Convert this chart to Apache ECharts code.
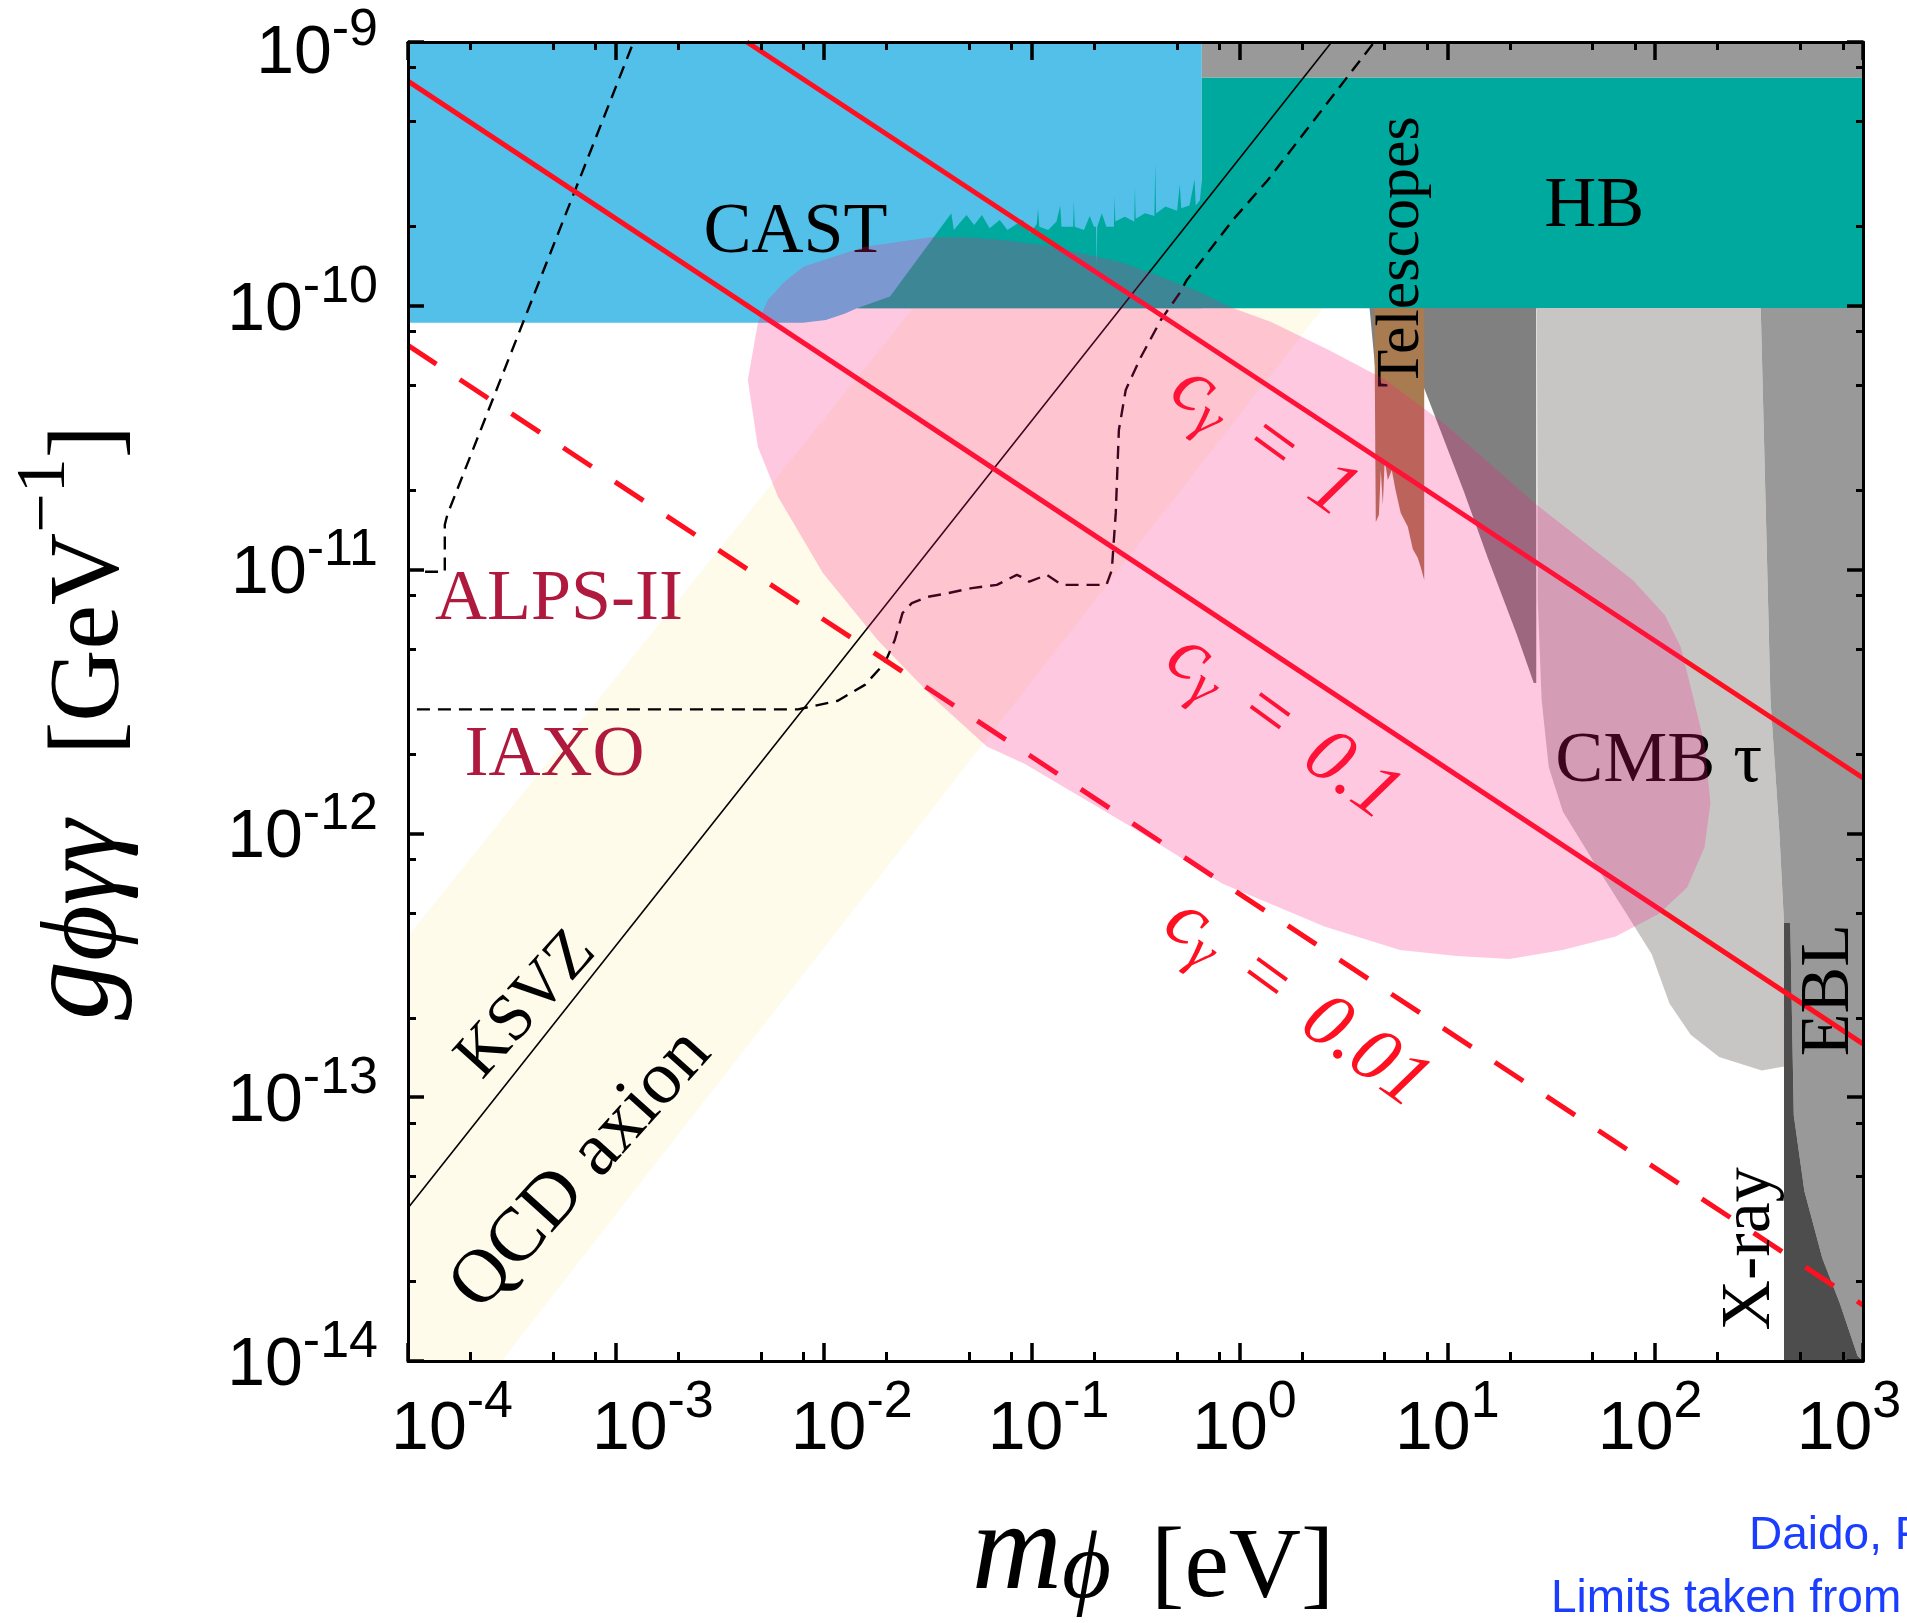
<!DOCTYPE html>
<html><head><meta charset="utf-8">
<script src="https://cdn.jsdelivr.net/npm/echarts@6/dist/echarts.min.js"></script>
<style>html,body{margin:0;padding:0;background:#fff;}#c{width:1907px;height:1623px;}</style>
</head><body><div id="c"></div>
<script>
// ---------- axis ticks (log10 exponents) ----------
const xTickExps = [-4, -3, -2, -1, 0, 1, 2, 3];
const yTickExps = [-14, -13, -12, -11, -10, -9];
const minorMultipliers = [2, 5, 8];

// ---------- regions: log10(m_phi / eV), log10(g / GeV^-1) ----------
const qcdBandLogM = [-4, -4, -0.54, 1.40, -3.55];
const qcdBandLogG = [-14, -12.39, -9, -9, -14];

const castLogM = [-4, -0.181, -0.181, -1.84, -1.90, -1.99, -2.10, -4];
const castLogG = [-9, -9, -10.009, -10.009, -10.03, -10.054, -10.064, -10.064];

const hbLogM = [-1.84, -1.681, -1.386, -1.374, -1.313, -1.276, -1.239, -1.202, -1.153, -1.116, -1.042, -1.006, -0.975, -0.969, -0.963, -0.920, -0.880, -0.862, -0.856, -0.800, -0.797, -0.792, -0.748, -0.720, -0.700, -0.690, -0.687, -0.684, -0.662, -0.640, -0.604, -0.601, -0.597, -0.552, -0.506, -0.503, -0.499, -0.454, -0.409, -0.405, -0.401, -0.356, -0.300, -0.287, -0.280, -0.240, -0.216, -0.210, -0.190, -0.181, -0.181, 3, 3];
const hbLogG = [-10.009, -9.965, -9.649, -9.713, -9.656, -9.694, -9.656, -9.706, -9.675, -9.713, -9.675, -9.724, -9.690, -9.630, -9.700, -9.713, -9.680, -9.620, -9.700, -9.700, -9.600, -9.700, -9.713, -9.660, -9.700, -9.700, -9.852, -9.700, -9.649, -9.700, -9.700, -9.586, -9.680, -9.662, -9.680, -9.549, -9.670, -9.649, -9.660, -9.460, -9.650, -9.624, -9.640, -9.540, -9.630, -9.620, -9.520, -9.620, -9.600, -9.523, -9.135, -9.135, -10.009];

const topStripLogM = [-0.181, 3, 3, -0.181];
const topStripLogG = [-9, -9, -9.135, -9.135];

const darkGrayLogM = [0.626, 1.428, 1.428, 1.416, 1.334, 1.195, 1.079, 0.964, 0.889, 0.656];
const darkGrayLogG = [-10.008, -10.008, -11.430, -11.430, -11.245, -10.956, -10.702, -10.466, -10.313, -10.262];

const lightGrayLogM = [1.431, 2.508, 2.555, 2.598, 2.62, 2.633, 2.513, 2.308, 2.171, 2.069, 1.983, 1.863, 1.727, 1.556, 1.488, 1.454, 1.435];
const lightGrayLogG = [-10.008, -10.008, -11.494, -12.002, -12.340, -12.882, -12.899, -12.848, -12.763, -12.645, -12.457, -12.306, -12.137, -11.917, -11.748, -11.494, -11.115];

const eblLogM = [2.508, 3, 3, 2.974, 2.888, 2.804, 2.718, 2.667, 2.650, 2.62, 2.598, 2.555];
const eblLogG = [-10.008, -10.008, -14, -13.981, -13.780, -13.610, -13.356, -13.068, -12.340, -12.340, -12.002, -11.494];

const xrayLogM = [2.62, 2.650, 2.667, 2.718, 2.804, 2.888, 2.974, 3, 2.62];
const xrayLogG = [-12.340, -12.340, -13.068, -13.356, -13.610, -13.780, -13.981, -14, -14];

const telescopeLogM = [0.649, 0.889, 0.889, 0.872, 0.858, 0.834, 0.810, 0.776, 0.752, 0.733, 0.714, 0.699, 0.690, 0.680, 0.671, 0.656];
const telescopeLogG = [-10.008, -10.008, -11.039, -10.990, -10.956, -10.922, -10.838, -10.785, -10.702, -10.622, -10.660, -10.585, -10.755, -10.622, -10.793, -10.820];

const cmbTauLogM = [-2.365, -2.317, -2.269, -2.19, -2.098, -1.803, -1.484, -1.313, -1.138, -0.946, -0.768, -0.575, -0.400, -0.215, -0.032, 0.153, 0.430, 0.704, 0.988, 1.428, 1.892, 2.046, 2.123, 2.186, 2.238, 2.266, 2.238, 2.154, 2.017, 1.810, 1.555, 1.300, 1.044, 0.772, 0.409, -0.081, -0.511, -1.032, -1.215, -1.462, -1.741, -2.004, -2.220, -2.317];
const cmbTauLogG = [-10.281, -10.065, -9.978, -9.91, -9.852, -9.776, -9.740, -9.740, -9.751, -9.770, -9.800, -9.834, -9.883, -9.940, -10.008, -10.061, -10.168, -10.281, -10.448, -10.753, -11.039, -11.172, -11.293, -11.494, -11.663, -11.884, -12.052, -12.205, -12.306, -12.391, -12.442, -12.476, -12.465, -12.442, -12.353, -12.191, -11.980, -11.737, -11.671, -11.494, -11.267, -11.013, -10.724, -10.534];

// ---------- lines ----------
const ksvzLogM = [-4, 0.444];
const ksvzLogG = [-13.42, -9];
const c1LogM = [-2.37, 3];
const c1LogG = [-9, -11.79];
const c01LogM = [-4, 3];
const c01LogG = [-9.148, -12.798];
const c001LogM = [-4, 3];
const c001LogG = [-10.150, -13.788];
const iaxoLogM = [-3.957, -2.124, -1.932, -1.802, -1.706, -1.658, -1.621, -1.576, -1.504, -1.406, -1.287, -1.167, -1.071, -1.037, -1.011, -0.927, -0.854, -0.640, -0.614, -0.595, -0.580, -0.547, -0.474, -0.378, -0.287, -0.253, -0.032, 0.137, 0.649];
const iaxoLogG = [-11.530, -11.530, -11.497, -11.437, -11.354, -11.267, -11.165, -11.127, -11.104, -11.090, -11.070, -11.058, -11.020, -11.032, -11.046, -11.020, -11.058, -11.058, -11.002, -10.785, -10.471, -10.319, -10.194, -10.054, -9.951, -9.902, -9.675, -9.523, -9.000];
const alpsLogM = [-3.918, -3.823, -3.823, -3.81, -2.915];
const alpsLogG = [-11.008, -11.008, -10.83, -10.79, -9.0];

// ---------- annotation texts ----------
const labelTexts = ['CAST', 'HB', 'Telescopes', 'CMB τ', 'EBL', 'X-ray', 'ALPS-II', 'IAXO', 'KSVZ', 'QCD axion'];
const labelLogM = [-2.136, 1.707, 0.781, 2.017, 2.837, 2.457, -3.274, -3.295, -3.428, -3.165];
const labelLogG = [-9.726, -9.627, -9.796, -11.731, -12.594, -13.575, -11.115, -11.708, -12.651, -13.276];
const cLabelValues = ['1', '0.1', '0.01'];
const cLabelLogM = [0.117, 0.209, 0.274];
const cLabelLogG = [-10.513, -11.596, -12.643];

// ---------- styles ----------
const SERIF = "'Liberation Serif','DejaVu Serif',serif";
const SANS = "'Liberation Sans','DejaVu Sans',sans-serif";
const labelSize = [72, 72, 62, 72, 70, 70, 72, 72, 66, 76];
const labelRot = [0, 0, 90, 0, 90, 90, 0, 0, 48, 48];
const labelColor = ['#000', '#000', '#000', '#000', '#000', '#000', '#b0193e', '#b0193e', '#000', '#000'];
const xLabelShift = [44, 37, 28, 17, 5, 0, -5, -14];
const RED = '#ff1020';

const minorX = [];
for (let e = xTickExps[0]; e < xTickExps[xTickExps.length - 1]; e++) minorMultipliers.forEach(k => minorX.push(e + Math.log10(k)));
const minorY = [];
for (let e = yTickExps[0]; e < yTickExps[yTickExps.length - 1]; e++) minorMultipliers.forEach(k => minorY.push(e + Math.log10(k)));

function region(name, mArr, gArr, fill, z) {
  return {
    type: 'custom', name, z, silent: true, clip: true,
    data: [[mArr[0], gArr[0]]],
    renderItem(params, api) {
      const points = mArr.map((m, i) => api.coord([m, gArr[i]]));
      return { type: 'polygon', shape: { points }, style: { fill } };
    }
  };
}
function curve(name, mArr, gArr, color, width, dash, z) {
  return {
    type: 'line', name, z, silent: true, symbol: 'none', showSymbol: false,
    data: mArr.map((m, i) => [m, gArr[i]]),
    lineStyle: { color, width, type: dash || 'solid', cap: 'butt' }
  };
}

// superscripts raised via bottom padding (raise = padding / 2); horizontal shift via outer padding
const xRich = {};
xLabelShift.forEach((sh, i) => {
  xRich['b' + i] = { fontSize: 68, fontFamily: SANS, color: '#000', lineHeight: 70,
    padding: sh > 0 ? [0, 0, 0, 2 * sh] : [0, 0, 0, 0] };
  xRich['s' + i] = { fontSize: 52, fontFamily: SANS, color: '#000', lineHeight: 16,
    padding: sh < 0 ? [0, -2 * sh, 54, 0] : [0, 0, 54, 0] };
});
const yRich = {
  b: { fontSize: 68, fontFamily: SANS, color: '#000', lineHeight: 70 },
  s: { fontSize: 52, fontFamily: SANS, color: '#000', lineHeight: 23, padding: [0, 0, 47, 0] },
  b9: { fontSize: 68, fontFamily: SANS, color: '#000', lineHeight: 70, padding: [14, 0, 0, 0] },
  s9: { fontSize: 52, fontFamily: SANS, color: '#000', lineHeight: 23, padding: [14, 0, 47, 0] }
};

const axisLineStyle = { show: true, onZero: false, lineStyle: { color: '#000', width: 3 } };
function majorTick(len) { return { show: true, inside: true, length: len, lineStyle: { color: '#000', width: 3.5 } }; }
function minorTickAxis(vals, len) { return { show: true, inside: true, length: len, customValues: vals, lineStyle: { color: '#000', width: 3 } }; }

const option = {
  backgroundColor: '#fff',
  animation: false,
  grid: { left: 408, top: 42, width: 1455, height: 1319, containLabel: false, outerBoundsMode: 'none' },
  xAxis: [
    { type: 'value', min: -4, max: 3, interval: 1, position: 'bottom', z: 20,
      axisLine: axisLineStyle, axisTick: majorTick(18), splitLine: { show: false },
      axisLabel: { margin: 34, formatter: v => { const e = Math.round(v); const k = e + 4; return '{b' + k + '|10}{s' + k + '|' + e + '}'; }, rich: xRich },
      name: '{m|m}{phi|ϕ}{u|[eV]}', nameLocation: 'middle', nameGap: 129, nameMoveOverlap: false,
      nameTextStyle: { padding: [0, 0, 0, 35], rich: {
        m: { fontSize: 125, fontStyle: 'italic', fontFamily: SERIF, color: '#000', lineHeight: 130 },
        phi: { fontSize: 95, fontStyle: 'italic', fontFamily: SERIF, color: '#000', lineHeight: 86, verticalAlign: 'bottom' },
        u: { fontSize: 100, fontFamily: SERIF, color: '#000', lineHeight: 114, verticalAlign: 'bottom', padding: [0, 0, 0, 40] }
      } } },
    { type: 'value', min: -4, max: 3, position: 'bottom', z: 20, axisLine: { show: false, onZero: false },
      axisTick: minorTickAxis(minorX, 9), axisLabel: { show: false }, splitLine: { show: false } },
    { type: 'value', min: -4, max: 3, interval: 1, position: 'top', z: 20,
      axisLine: axisLineStyle, axisTick: majorTick(18), axisLabel: { show: false }, splitLine: { show: false } },
    { type: 'value', min: -4, max: 3, position: 'top', z: 20, axisLine: { show: false, onZero: false },
      axisTick: minorTickAxis(minorX, 8), axisLabel: { show: false }, splitLine: { show: false } }
  ],
  yAxis: [
    { type: 'value', min: -14, max: -9, interval: 1, position: 'left', z: 20,
      axisLine: axisLineStyle, axisTick: majorTick(16), splitLine: { show: false },
      axisLabel: { margin: 30, padding: [10, 0, 0, 0], formatter: v => { const e = Math.round(v); return e === -9 ? '{b9|10}{s9|' + e + '}' : '{b|10}{s|' + e + '}'; }, rich: yRich },
      name: '{g|g}{sub|ϕγγ}{u|[GeV}{sup|−1}{u2|]}', nameLocation: 'middle', nameRotate: 90, nameGap: 267, nameMoveOverlap: false,
      nameTextStyle: { padding: [0, 42, 0, 0], rich: {
        g: { fontSize: 118, fontStyle: 'italic', fontFamily: SERIF, color: '#000', lineHeight: 130 },
        sub: { fontSize: 108, fontStyle: 'italic', fontFamily: SERIF, color: '#000', lineHeight: 110, verticalAlign: 'bottom' },
        u: { fontSize: 100, fontFamily: SERIF, color: '#000', lineHeight: 118, verticalAlign: 'bottom', padding: [0, 0, 0, 65] },
        sup: { fontSize: 70, fontFamily: SERIF, color: '#000', lineHeight: 66, verticalAlign: 'top' },
        u2: { fontSize: 100, fontFamily: SERIF, color: '#000', lineHeight: 118, verticalAlign: 'bottom' }
      } } },
    { type: 'value', min: -14, max: -9, position: 'left', z: 20, axisLine: { show: false, onZero: false },
      axisTick: minorTickAxis(minorY, 8), axisLabel: { show: false }, splitLine: { show: false } },
    { type: 'value', min: -14, max: -9, interval: 1, position: 'right', z: 20,
      axisLine: axisLineStyle, axisTick: majorTick(16), axisLabel: { show: false }, splitLine: { show: false } },
    { type: 'value', min: -14, max: -9, position: 'right', z: 20, axisLine: { show: false, onZero: false },
      axisTick: minorTickAxis(minorY, 7), axisLabel: { show: false }, splitLine: { show: false } }
  ],
  graphic: [
    { type: 'text', x: 1749, y: 1536, z: 30, style: { text: 'Daido, F', fontSize: 46, fontFamily: SANS, fill: '#1a3dff', verticalAlign: 'middle' } },
    { type: 'text', x: 1551, y: 1599, z: 30, style: { text: 'Limits taken from', fontSize: 46, fontFamily: SANS, fill: '#1a3dff', verticalAlign: 'middle' } }
  ],
  series: [
    region('QCD axion band', qcdBandLogM, qcdBandLogG, '#fefbea', 1),
    region('CAST', castLogM, castLogG, '#52c0e9', 2),
    region('HB', hbLogM, hbLogG, '#00a99d', 3),
    region('top', topStripLogM, topStripLogG, '#999999', 3),
    region('light gray', lightGrayLogM, lightGrayLogG, '#c8c5c5', 4),
    region('dark gray', darkGrayLogM, darkGrayLogG, '#808080', 5),
    region('EBL', eblLogM, eblLogG, '#999999', 6),
    region('X-ray', xrayLogM, xrayLogG, '#4d4d4d', 7),
    region('Telescopes', telescopeLogM, telescopeLogG, '#a87b50', 8),
    curve('KSVZ', ksvzLogM, ksvzLogG, '#000', 1.6, null, 9),
    curve('IAXO', iaxoLogM, iaxoLogG, '#000', 2.4, [13, 8], 9),
    curve('ALPS-II', alpsLogM, alpsLogG, '#000', 2.4, [13, 8], 9),
    curve('c=1', c1LogM, c1LogG, RED, 5, null, 9),
    curve('c=0.1', c01LogM, c01LogG, RED, 5, null, 9),
    curve('c=0.01', c001LogM, c001LogG, RED, 5, [34, 28], 9),
    {
      type: 'custom', name: 'labels', z: 10, silent: true, clip: false,
      data: labelLogM.map((m, i) => [m, labelLogG[i]]),
      renderItem(params, api) {
        const i = params.dataIndex;
        const p = api.coord([labelLogM[i], labelLogG[i]]);
        return { type: 'text', x: p[0], y: p[1], rotation: labelRot[i] * Math.PI / 180,
          style: { text: labelTexts[i], fill: labelColor[i], fontSize: labelSize[i], fontFamily: SERIF, align: 'center', verticalAlign: 'middle' } };
      }
    },
    {
      type: 'custom', name: 'c labels', z: 10, silent: true, clip: false,
      data: cLabelLogM.map((m, i) => [m, cLabelLogG[i]]),
      renderItem(params, api) {
        const i = params.dataIndex;
        const p = api.coord([cLabelLogM[i], cLabelLogG[i]]);
        return { type: 'text', x: p[0], y: p[1], rotation: -36 * Math.PI / 180,
          style: { text: '{c|c}{g|γ}{eq|=}{n|' + cLabelValues[i] + '}', align: 'center', verticalAlign: 'middle',
            rich: {
              c: { fontSize: 80, fontStyle: 'italic', fontFamily: SERIF, fill: RED, lineHeight: 90 },
              g: { fontSize: 56, fontStyle: 'italic', fontFamily: SERIF, fill: RED, lineHeight: 62, verticalAlign: 'bottom' },
              eq: { fontSize: 78, fontFamily: SERIF, fill: RED, lineHeight: 90, padding: [0, 34, 0, 34] },
              n: { fontSize: 78, fontStyle: 'italic', fontFamily: SERIF, fill: RED, lineHeight: 90 }
            } } };
      }
    },
    region('CMB tau', cmbTauLogM, cmbTauLogG, 'rgba(255,23,128,0.24)', 11)
  ]
};

const chart = echarts.init(document.getElementById('c'), null, { renderer: 'canvas', width: 1907, height: 1623 });
chart.setOption(option);
</script>
</body></html>
